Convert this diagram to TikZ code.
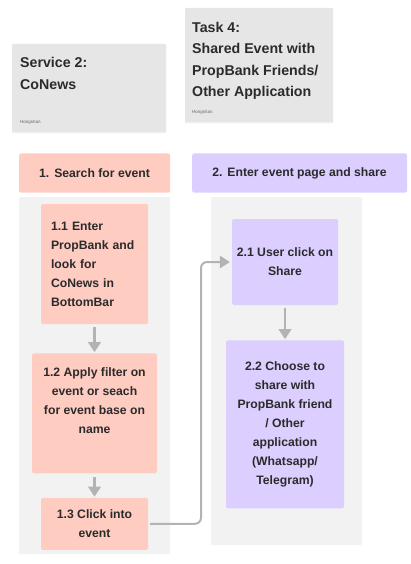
\documentclass[tikz,border=0pt]{standalone}
\usepackage{fontspec}
\setmainfont{Liberation Sans}
\usetikzlibrary{positioning,arrows.meta,shadows}
\definecolor{salmon}{HTML}{FFCCC2}
\definecolor{lilac}{HTML}{DCCEFF}
\definecolor{lane}{HTML}{F2F2F2}
\definecolor{card}{HTML}{E6E6E6}
\definecolor{ink}{HTML}{2B2B2B}
\definecolor{wire}{HTML}{B3B3B3}

\begin{document}
\begin{tikzpicture}[x=1pt,y=-1pt,
        every node/.style={text=ink, inner sep=0pt},
        boxtext/.style={font=\bfseries\fontsize{12.2}{19}\selectfont, align=center},
        cardbox/.style={fill=card, rounded corners=1pt,
            drop shadow={opacity=0.12, shadow xshift=0pt, shadow yshift=-1.5pt}},
        cardtitle/.style={font=\bfseries\fontsize{14.2}{21.5}\selectfont, align=left, anchor=north west},
        cardtag/.style={font=\fontsize{4.5}{5}\selectfont, text=black!60, anchor=west},
        lanebox/.style={fill=lane, rounded corners=1pt},
        head/.style={boxtext, rounded corners=1.5pt, minimum height=39pt},
        stepone/.style={boxtext, fill=salmon, rounded corners=1.5pt},
        steptwo/.style={boxtext, fill=lilac, rounded corners=1.5pt},
        flow/.style={draw=wire, line width=2.4pt, -{Triangle[length=10pt,width=12.5pt]},
            shorten <=3pt, shorten >=1pt},
        link/.style={draw=wire, line width=2pt, rounded corners=6pt,
            -{Triangle[length=10pt,width=12.5pt]}, shorten >=2pt}]
    \useasboundingbox (0,0) rectangle (411,564);

    \path[cardbox] (12,44) rectangle (166,132);
    \node[cardtitle] (svc) at (20,57.5) {Service 2:\\CoNews};
    \node[cardtag] (svctag) at (20,122) {Hongshan};

    \path[cardbox] (185,8) rectangle (333,122);
    \node[cardtitle] (task) at (192,22) {Task 4:\\Shared Event with\\PropBank Friends/\\Other Application};
    \node[cardtag] (tasktag) at (192,112) {Hongshan};

    \node[head, fill=salmon, minimum width=151pt] (h1) at (94.5,173) {1.\hspace{5pt}Search for event};
    \node[head, fill=lilac, minimum width=215pt] (h2) at (299.5,173) {2.\hspace{5pt}Enter event page and share};

    \path[lanebox] (19,197) rectangle (170,554);
    \path[lanebox] (211,197) rectangle (362,545);

    \node[stepone, align=left, text width=87pt, inner xsep=10pt, minimum height=120pt] (s11) at (94.5,264)
        {1.1 Enter\\PropBank and\\look for\\CoNews in\\BottomBar};
    \node[stepone, minimum width=125pt, minimum height=120pt, below=29pt of s11] (s12)
        {1.2 Apply filter on\\event or seach\\for event base on\\name\\\strut};
    \node[stepone, minimum width=107pt, minimum height=52pt, below=24pt of s12] (s13)
        {1.3 Click into\\event};

    \node[steptwo, minimum width=106pt, minimum height=86pt] (s21) at (285,262)
        {2.1 User click on\\Share};
    \node[steptwo, minimum width=118pt, minimum height=168pt, below=35pt of s21] (s22)
        {2.2 Choose to\\share with\\PropBank friend\\/ Other\\application\\(Whatsapp/\\Telegram)};

    \draw[flow] (s11) -- (s12);
    \draw[flow] (s12) -- (s13);
    \draw[flow] (s21) -- (s22);

    \coordinate (bend) at (201,400);
    \draw[link] ([xshift=2pt]s13.east) -- (s13.east -| bend) -- (bend |- s21.west) -- (s21.west);
\end{tikzpicture}
\end{document}
